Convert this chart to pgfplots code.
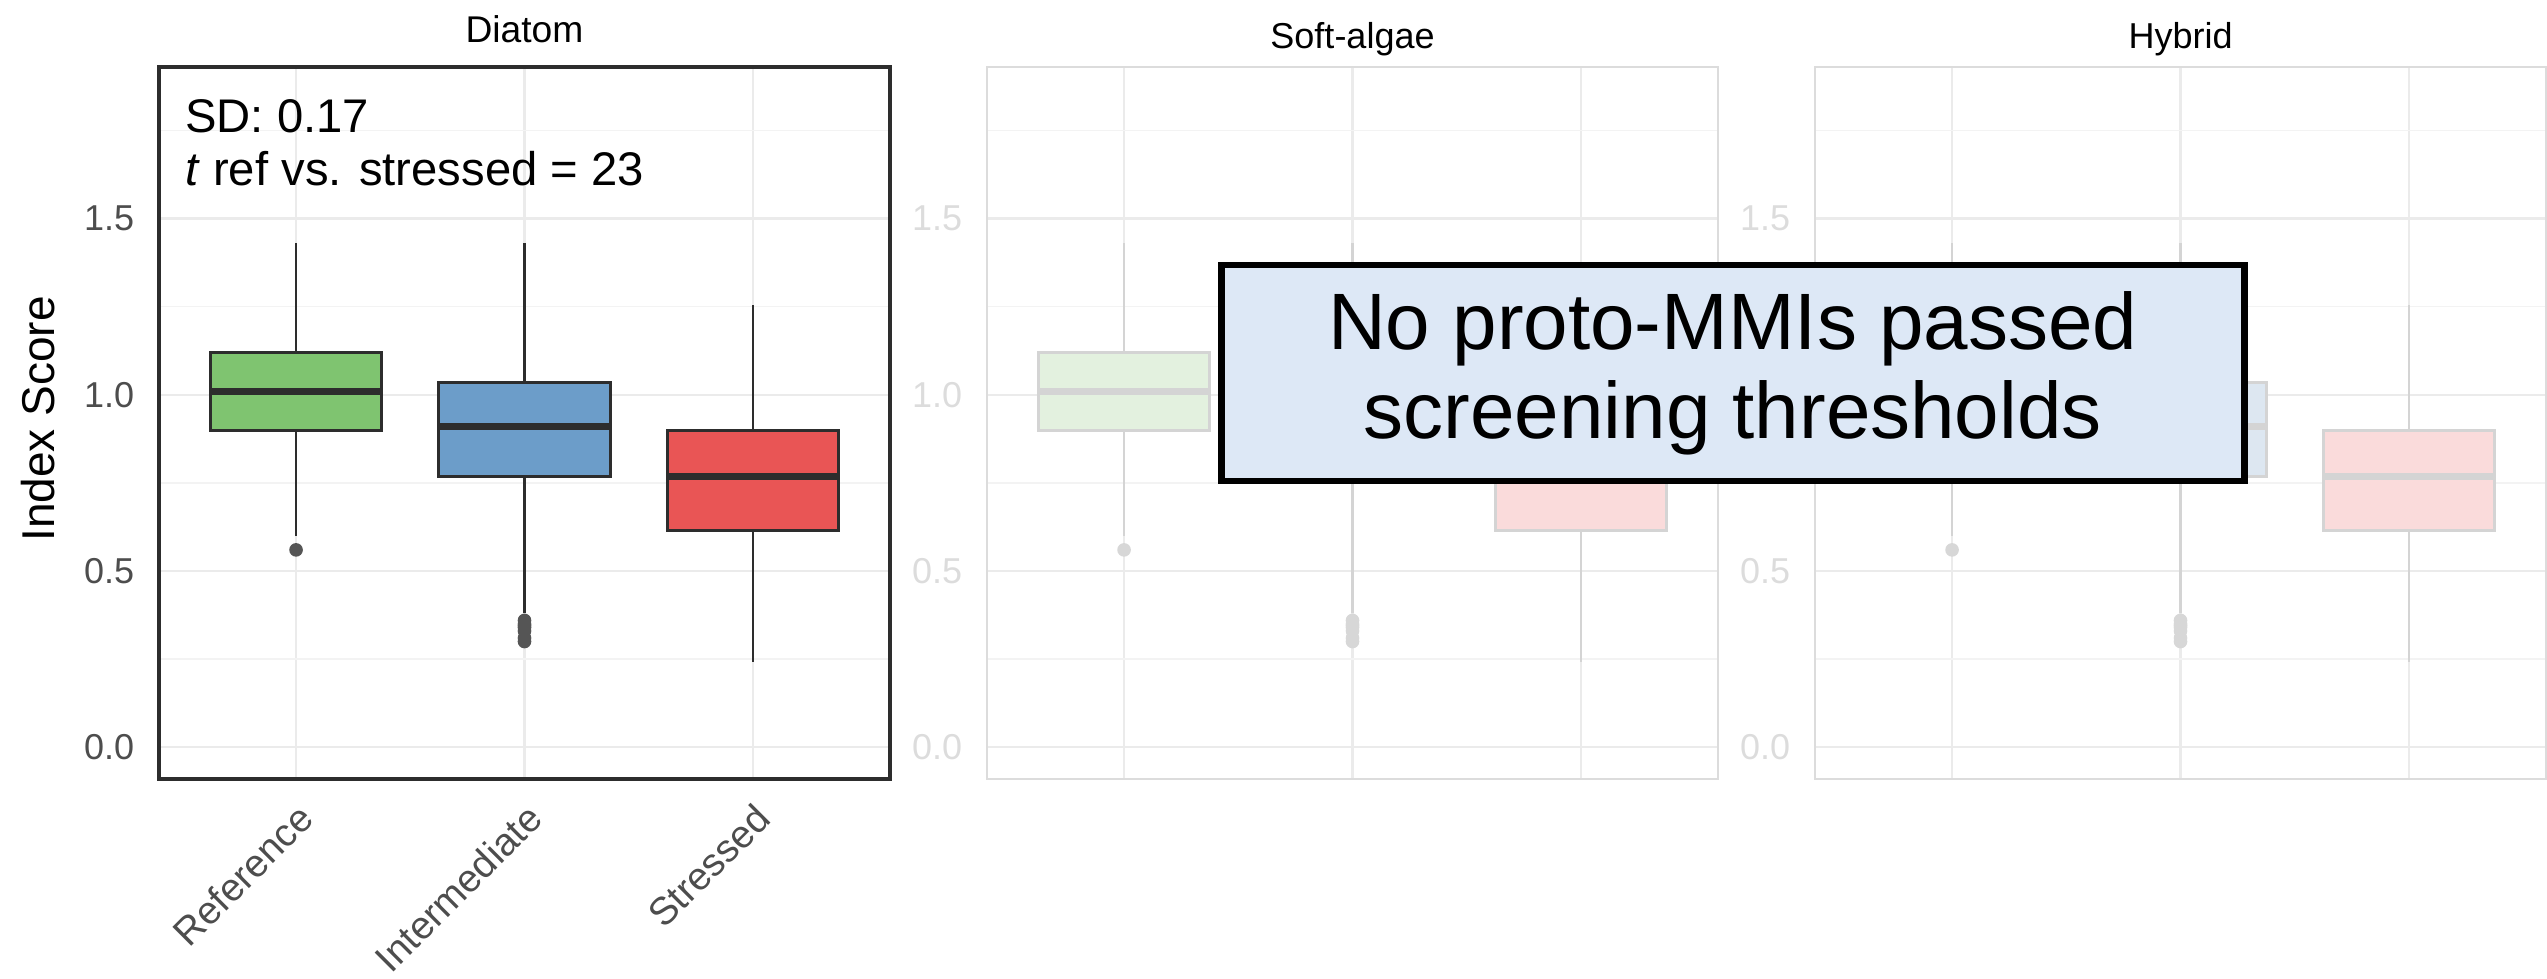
\documentclass[border=0pt]{standalone}
\usepackage{fontspec}
\setmainfont{Liberation Sans}
\usepackage{pgfplots}
\pgfplotsset{compat=1.18}
\usepgfplotslibrary{statistics}

\definecolor{gA}{RGB}{127,196,112}
\definecolor{bA}{RGB}{108,157,201}
\definecolor{rA}{RGB}{233,85,85}
\definecolor{gF}{RGB}{227,241,223}
\definecolor{bF}{RGB}{221,231,241}
\definecolor{rF}{RGB}{250,219,219}
\definecolor{lnA}{RGB}{45,45,45}
\definecolor{lnF}{RGB}{212,212,212}
\definecolor{outA}{RGB}{85,85,85}
\definecolor{outF}{RGB}{215,215,215}
\definecolor{gridmaj}{RGB}{235,235,235}
\definecolor{gridmin}{RGB}{243,243,243}
\definecolor{tickA}{RGB}{77,77,77}
\definecolor{tickF}{RGB}{220,220,220}
\definecolor{msgbg}{RGB}{221,232,246}

\pgfplotsset{
  panel/.style={
    scale only axis, width=182.75pt, height=178pt, anchor=south west,
    xmin=0.4, xmax=3.6, ymin=-0.09, ymax=1.93,
    xtick={1,2,3}, ytick={0,0.5,1,1.5},
    minor ytick={0.25,0.75,1.25,1.75},
    grid=both,
    major grid style={draw=gridmaj, line width=0.6pt},
    minor grid style={draw=gridmin, line width=0.4pt},
    major tick length=0pt, minor tick length=0pt,
    /pgf/number format/fixed,
    /pgf/number format/fixed zerofill,
    /pgf/number format/precision=1,
    /pgf/number format/assume math mode=true,
    yticklabel style={font=\fontsize{9}{10}\selectfont, inner sep=0pt, xshift=-6pt},
    every axis title shift=0pt,
    title style={at={(0.5,1)}, anchor=base, inner sep=0pt, yshift=4.5pt,
      font=\fontsize{9}{10}\selectfont},
    boxplot/draw direction=y,
  },
  bxs/.style 2 args={
    boxplot/box extend=0.75, boxplot/whisker extend=0,
    boxplot/every box/.style={draw=#2, fill=#1, line width=0.75pt},
    boxplot/every median/.style={draw=#2, line width=1.75pt},
    boxplot/every whisker/.style={draw=#2, line width=0.65pt},
    mark=*, mark size=1.5pt,
  },
}

% #1,#2,#3 fills, #4 line colour, #5 outlier colour
\newcommand\threeboxes[5]{%
  \addplot[boxplot prepared={draw position=1, lower whisker=0.6,
      lower quartile=0.9, median=1.008, upper quartile=1.12, upper whisker=1.43},
    bxs={#1}{#4}, mark options={draw=#5, fill=#5}]
    coordinates {(1,0.56)};
  \addplot[boxplot prepared={draw position=2, lower whisker=0.38,
      lower quartile=0.768, median=0.91, upper quartile=1.035, upper whisker=1.43},
    bxs={#2}{#4}, mark options={draw=#5, fill=#5}]
    coordinates {(2,0.36) (2,0.35) (2,0.345) (2,0.34) (2,0.33) (2,0.31) (2,0.30)};
  \addplot[boxplot prepared={draw position=3, lower whisker=0.243,
      lower quartile=0.615, median=0.767, upper quartile=0.9, upper whisker=1.255},
    bxs={#3}{#4}]
    coordinates {};
}

\begin{document}
\begin{tikzpicture}
\path[use as bounding box] (0,0) rectangle (636.75pt,244.5pt);

% Diatom
\begin{axis}[panel, at={(39.75pt,49.75pt)},
  axis line style={draw=lnA, line width=0.8pt},
  title={Diatom}, title style={font=\fontsize{9.3}{10}\selectfont, yshift=1.5pt},
  yticklabel style={text=tickA},
  xticklabels={Reference,Intermediate,Stressed},
  xticklabel style={xshift=0pt, yshift=-5.4pt, rotate=45, anchor=north east,
    inner sep=0pt, font=\fontsize{9.7}{11}\selectfont, text=tickA},
]
\threeboxes{gA}{bA}{rA}{lnA}{outA}
\node[anchor=north west, align=left, inner sep=0pt,
  font=\fontsize{11.8}{13.2}\selectfont] at (rel axis cs:0.035,0.955)
  {SD: 0.17\\\textit{t} ref vs. stressed = 23};
\end{axis}

% Soft-algae
\begin{axis}[panel, at={(246.75pt,49.75pt)},
  axis line style={draw=tickF, line width=0.5pt},
  title={Soft-algae},
  yticklabel style={text=tickF},
  xticklabels={,,},
]
\threeboxes{gF}{bF}{rF}{lnF}{outF}
\end{axis}

% Hybrid
\begin{axis}[panel, at={(453.75pt,49.75pt)},
  axis line style={draw=tickF, line width=0.5pt},
  title={Hybrid},
  yticklabel style={text=tickF},
  xticklabels={,,},
]
\threeboxes{gF}{bF}{rF}{lnF}{outF}
\end{axis}

\node[rotate=90, font=\fontsize{11.5}{13}\selectfont] at (9.5pt,139.75pt) {Index Score};

\node[draw=black, line width=1.6pt, fill=msgbg, minimum width=255.75pt,
  minimum height=54pt, align=center, inner sep=0pt,
  font=\fontsize{20}{22.3}\selectfont] at (433.2pt,151.25pt)
  {No proto-MMIs passed\\screening thresholds};
\end{tikzpicture}
\end{document}
